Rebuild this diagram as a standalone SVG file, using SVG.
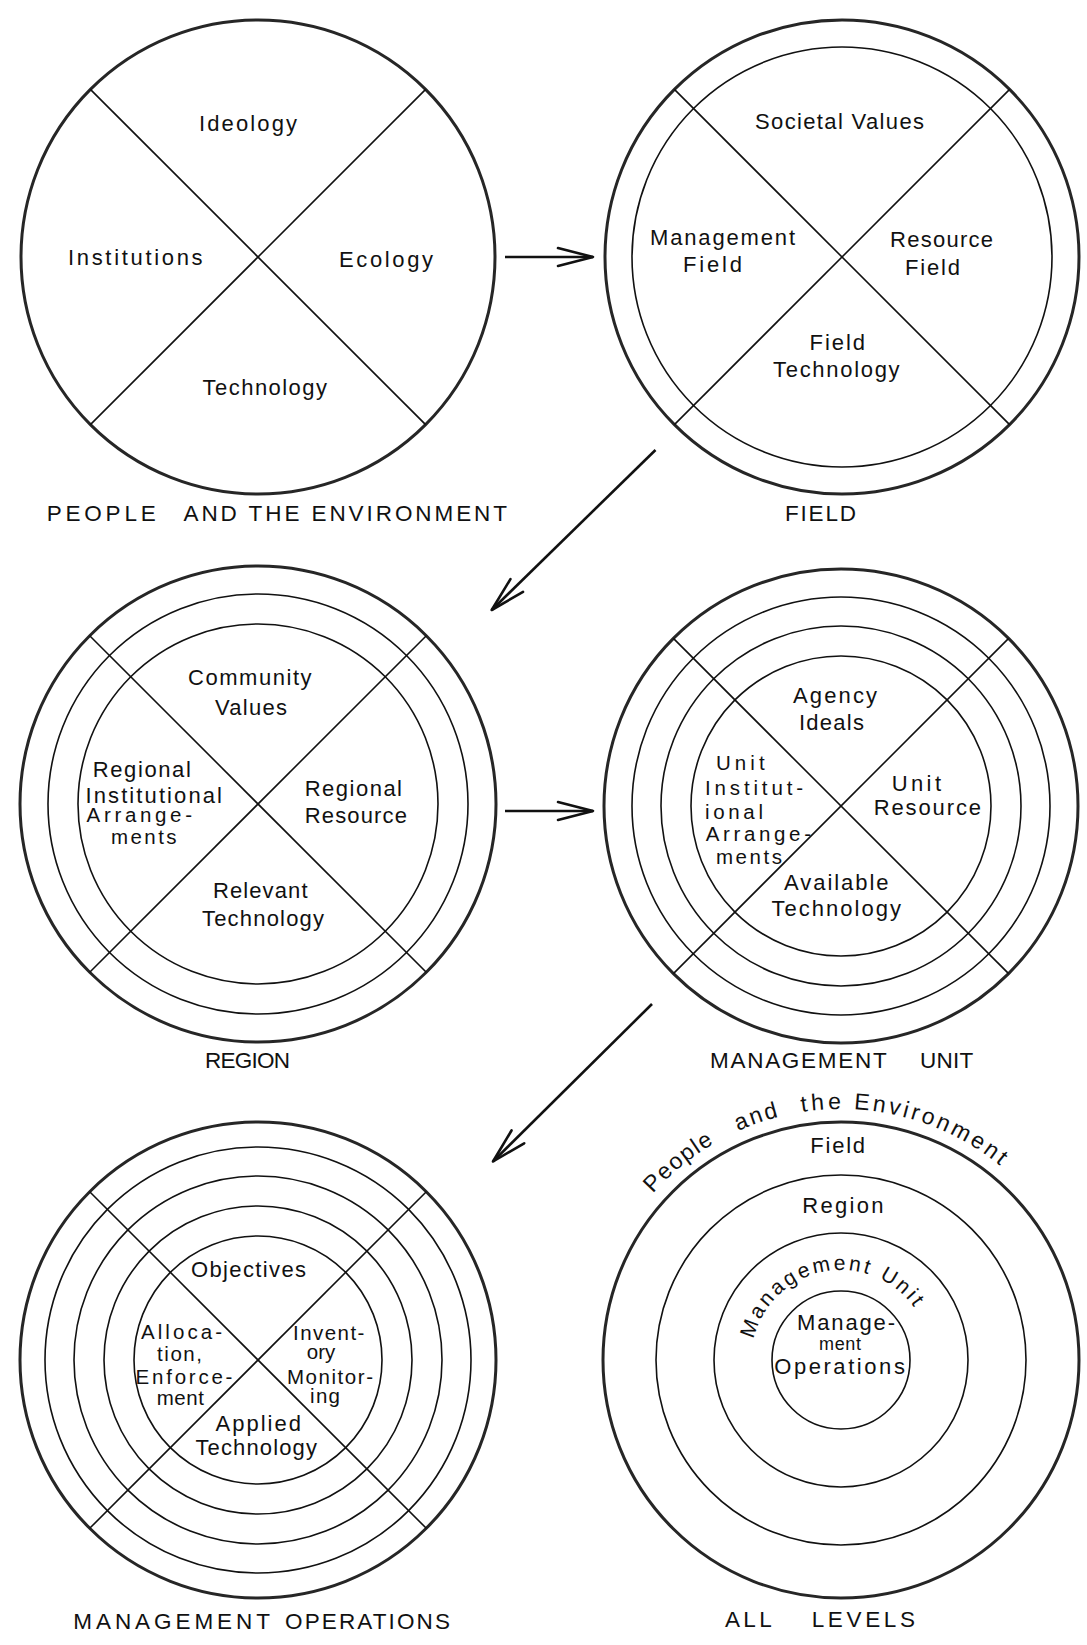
<svg xmlns="http://www.w3.org/2000/svg" width="1087" height="1645" viewBox="0 0 1087 1645">
<style>
.bg{fill:#fff}
.outer{fill:none;stroke:#262626;stroke-width:3}
.ring{fill:none;stroke:#111;stroke-width:1.6}
.cross{stroke:#111;stroke-width:1.6}
.lbl{font-family:"Liberation Sans",Arial,sans-serif;font-size:22px;fill:#111}
.sm{font-size:20.5px}
.cap{font-size:22.5px}
.arc{font-family:"Liberation Sans",Arial,sans-serif;font-size:23px;fill:#111}
.arrow{fill:none;stroke:#111;stroke-width:2.6;marker-end:url(#chev)}
</style>
<defs>
<marker id="chev" markerUnits="userSpaceOnUse" viewBox="-40 -14 44 28" refX="0" refY="0" markerWidth="44" markerHeight="28" orient="auto" overflow="visible">
<path d="M-35,-9 L0,0 L-35,9" fill="none" stroke="#111" stroke-width="2.6" stroke-linejoin="round" stroke-linecap="round"/>
</marker>
<path id="arcPNE" d="M623.6,1234.5 A251,251 0 0 1 1058.4,1234.5"/>
<path id="arcMU" d="M751,1360 A90,90 0 0 1 931,1360"/>
</defs>
<rect class="bg" x="0" y="0" width="1087" height="1645"/>

<g id="connectors">
<line class="arrow" x1="505" y1="257" x2="593" y2="257"/>
<line class="arrow" x1="655.5" y1="450" x2="491.7" y2="610"/>
<line class="arrow" x1="505" y1="811" x2="593" y2="811"/>
<line class="arrow" x1="652" y1="1004" x2="493" y2="1161.5"/>
</g>

<g id="people-environment">
<circle class="outer" cx="258" cy="257" r="237"/>
<line class="cross" x1="90.4" y1="89.4" x2="425.6" y2="424.6"/>
<line class="cross" x1="425.6" y1="89.4" x2="90.4" y2="424.6"/>
<text class="lbl" x="199" y="131" textLength="98" lengthAdjust="spacing">Ideology</text>
<text class="lbl" x="68" y="265" textLength="134.6" lengthAdjust="spacing">Institutions</text>
<text class="lbl" x="339" y="266.6" textLength="94" lengthAdjust="spacing">Ecology</text>
<text class="lbl" x="202.6" y="394.7" textLength="124.4" lengthAdjust="spacing">Technology</text>
<text class="lbl cap" x="46.7" y="521" textLength="109" lengthAdjust="spacing">PEOPLE</text>
<text class="lbl cap" x="183.5" y="521" textLength="323.5" lengthAdjust="spacing">AND THE ENVIRONMENT</text>
</g>

<g id="field">
<circle class="outer" cx="842" cy="257" r="237"/>
<circle class="ring" cx="842" cy="257" r="210"/>
<line class="cross" x1="674.4" y1="89.4" x2="1009.6" y2="424.6"/>
<line class="cross" x1="1009.6" y1="89.4" x2="674.4" y2="424.6"/>
<text class="lbl" x="755" y="128.8" textLength="169" lengthAdjust="spacing">Societal Values</text>
<text class="lbl" x="650" y="245" textLength="145" lengthAdjust="spacing">Management</text>
<text class="lbl" x="683" y="271.8" textLength="59" lengthAdjust="spacing">Field</text>
<text class="lbl" x="890" y="246.5" textLength="103" lengthAdjust="spacing">Resource</text>
<text class="lbl" x="905" y="275" textLength="55" lengthAdjust="spacing">Field</text>
<text class="lbl" x="809.6" y="349.7" textLength="55.4" lengthAdjust="spacing">Field</text>
<text class="lbl" x="773" y="377.4" textLength="126.6" lengthAdjust="spacing">Technology</text>
<text class="lbl cap" x="785" y="521" textLength="71" lengthAdjust="spacing">FIELD</text>
</g>

<g id="region">
<circle class="outer" cx="258" cy="804" r="238"/>
<circle class="ring" cx="258" cy="804" r="210"/>
<circle class="ring" cx="258" cy="804" r="180"/>
<line class="cross" x1="89.7" y1="635.7" x2="426.3" y2="972.3"/>
<line class="cross" x1="426.3" y1="635.7" x2="89.7" y2="972.3"/>
<text class="lbl" x="188" y="685.4" textLength="123.6" lengthAdjust="spacing">Community</text>
<text class="lbl" x="215" y="714.9" textLength="72" lengthAdjust="spacing">Values</text>
<text class="lbl" x="92.8" y="777.2" textLength="98" lengthAdjust="spacing">Regional</text>
<text class="lbl" x="85.5" y="802.5" textLength="136.5" lengthAdjust="spacing">Institutional</text>
<text class="lbl sm" x="86.6" y="822.2" textLength="105.4" lengthAdjust="spacing">Arrange-</text>
<text class="lbl sm" x="111" y="843.7" textLength="65.6" lengthAdjust="spacing">ments</text>
<text class="lbl" x="304.7" y="796" textLength="97.3" lengthAdjust="spacing">Regional</text>
<text class="lbl" x="304.7" y="823" textLength="102.3" lengthAdjust="spacing">Resource</text>
<text class="lbl" x="213" y="898" textLength="94.5" lengthAdjust="spacing">Relevant</text>
<text class="lbl" x="202" y="926" textLength="122" lengthAdjust="spacing">Technology</text>
<text class="lbl cap" x="205" y="1068" textLength="85" lengthAdjust="spacing">REGION</text>
</g>

<g id="management-unit">
<circle class="outer" cx="841" cy="806" r="237"/>
<circle class="ring" cx="841" cy="806" r="209"/>
<circle class="ring" cx="841" cy="806" r="180"/>
<circle class="ring" cx="841" cy="806" r="150"/>
<line class="cross" x1="673.4" y1="638.4" x2="1008.6" y2="973.6"/>
<line class="cross" x1="1008.6" y1="638.4" x2="673.4" y2="973.6"/>
<text class="lbl" x="793" y="702.7" textLength="84" lengthAdjust="spacing">Agency</text>
<text class="lbl" x="799" y="730.4" textLength="65" lengthAdjust="spacing">Ideals</text>
<text class="lbl sm" x="716" y="770" textLength="48.6" lengthAdjust="spacing">Unit</text>
<text class="lbl sm" x="705" y="794.5" textLength="98" lengthAdjust="spacing">Institut-</text>
<text class="lbl sm" x="705" y="818.7" textLength="58" lengthAdjust="spacing">ional</text>
<text class="lbl sm" x="705.7" y="841" textLength="105.3" lengthAdjust="spacing">Arrange-</text>
<text class="lbl sm" x="716" y="863.7" textLength="66" lengthAdjust="spacing">ments</text>
<text class="lbl" x="891.7" y="791" textLength="49.3" lengthAdjust="spacing">Unit</text>
<text class="lbl" x="873.7" y="815" textLength="107.3" lengthAdjust="spacing">Resource</text>
<text class="lbl" x="784" y="889.7" textLength="104.6" lengthAdjust="spacing">Available</text>
<text class="lbl" x="771.5" y="915.7" textLength="129.5" lengthAdjust="spacing">Technology</text>
<text class="lbl cap" x="710" y="1067.7" textLength="176.7" lengthAdjust="spacing">MANAGEMENT</text>
<text class="lbl cap" x="920" y="1067.7" textLength="53.3" lengthAdjust="spacing">UNIT</text>
</g>

<g id="management-operations">
<circle class="outer" cx="258" cy="1360" r="238"/>
<circle class="ring" cx="258" cy="1360" r="213"/>
<circle class="ring" cx="258" cy="1360" r="184"/>
<circle class="ring" cx="258" cy="1360" r="154"/>
<circle class="ring" cx="258" cy="1360" r="124"/>
<line class="cross" x1="89.7" y1="1191.7" x2="426.3" y2="1528.3"/>
<line class="cross" x1="426.3" y1="1191.7" x2="89.7" y2="1528.3"/>
<text class="lbl" x="191" y="1277" textLength="115" lengthAdjust="spacing">Objectives</text>
<text class="lbl sm" x="141" y="1339" textLength="81" lengthAdjust="spacing">Alloca-</text>
<text class="lbl sm" x="157" y="1361" textLength="45" lengthAdjust="spacing">tion,</text>
<text class="lbl sm" x="135.6" y="1384" textLength="96.8" lengthAdjust="spacing">Enforce-</text>
<text class="lbl sm" x="156.7" y="1405" textLength="47.3" lengthAdjust="spacing">ment</text>
<text class="lbl sm" x="293" y="1340" textLength="71.4" lengthAdjust="spacing">Invent-</text>
<text class="lbl sm" x="321" y="1359" text-anchor="middle">ory</text>
<text class="lbl sm" x="287" y="1384" textLength="86" lengthAdjust="spacing">Monitor-</text>
<text class="lbl sm" x="310" y="1403" textLength="30" lengthAdjust="spacing">ing</text>
<text class="lbl" x="215.5" y="1431" textLength="85.5" lengthAdjust="spacing">Applied</text>
<text class="lbl" x="195.4" y="1455" textLength="121.6" lengthAdjust="spacing">Technology</text>
<text class="lbl cap" x="73.3" y="1629" textLength="196.7" lengthAdjust="spacing">MANAGEMENT</text>
<text class="lbl cap" x="285" y="1629" textLength="165" lengthAdjust="spacing">OPERATIONS</text>
</g>

<g id="all-levels">
<circle class="outer" cx="841" cy="1360" r="238"/>
<circle class="ring" cx="841" cy="1360" r="185"/>
<circle class="ring" cx="841" cy="1360" r="127"/>
<circle class="ring" cx="841" cy="1360" r="69"/>
<text class="arc"><textPath href="#arcPNE" startOffset="50.4" letter-spacing="1.5">People</textPath></text>
<text class="arc"><textPath href="#arcPNE" startOffset="156.8" letter-spacing="2.3">and</textPath></text>
<text class="arc"><textPath href="#arcPNE" startOffset="223.4" letter-spacing="3.7">the</textPath></text>
<text class="arc"><textPath href="#arcPNE" startOffset="275.6" letter-spacing="3">Environment</textPath></text>
<text class="lbl" x="810.3" y="1153" textLength="54.8" lengthAdjust="spacing">Field</text>
<text class="lbl" x="802.3" y="1212.8" textLength="81.3" lengthAdjust="spacing">Region</text>
<text class="arc" style="font-size:21px"><textPath href="#arcMU" startOffset="21" letter-spacing="2.8">Management Unit</textPath></text>
<text class="lbl" x="797" y="1330" textLength="98" lengthAdjust="spacing">Manage-</text>
<text class="lbl" style="font-size:18px" x="819" y="1349.5" textLength="42" lengthAdjust="spacing">ment</text>
<text class="lbl" x="774.2" y="1374" textLength="130.7" lengthAdjust="spacing">Operations</text>
<text class="lbl cap" x="725" y="1627" textLength="46.7" lengthAdjust="spacing">ALL</text>
<text class="lbl cap" x="811.7" y="1627" textLength="103.3" lengthAdjust="spacing">LEVELS</text>
</g>
</svg>
